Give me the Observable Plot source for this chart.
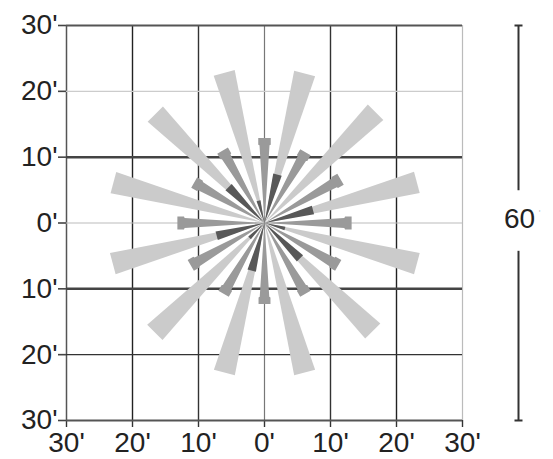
<!DOCTYPE html>
<html>
<head>
<meta charset="utf-8">
<script src="https://cdn.jsdelivr.net/npm/d3@7"></script>
<script src="https://cdn.jsdelivr.net/npm/@observablehq/plot@0.6"></script>
<style>
  html, body { margin: 0; padding: 0; background: #fff; }
  #chart svg { display: block; }
</style>
</head>
<body>
<div id="chart"></div>
<script>
// ---- data (arcminutes, angles in degrees counter‑clockwise from east) ----
const gridValues = [-30, -20, -10, 0, 10, 20, 30];
const tickLabels = ["30'", "20'", "10'", "0'", "10'", "20'", "30'"];

const lightAngles  = [15, 45, 75, 105, 135, 165, 195, 225, 255, 285, 315, 345];
const lightLengths = [23.9, 23.8, 23.5, 23.6, 23.4, 23.7, 23.8, 23.5, 23.5, 23.5, 23.2, 23.9];

const mediumAngles  = [0, 30, 60, 90, 120, 150, 180, 210, 240, 270, 300, 330];
const mediumLengths = [13.2, 13.3, 12.4, 12.9, 12.7, 12.3, 13.2, 12.9, 12.4, 12.3, 12.4, 12.9];

const darkAngles  = [15, 75, 105, 135, 195, 225, 255, 315, 345];
const darkLengths = [7.6, 7.6, 3.5, 7.7, 7.5, 3.2, 7.5, 7.6, 3.2];

const scaleBarLabel = "60";
const scaleBarSpan = 60;

// ---- build wedge polygons from the arrays ----
function wedges(angles, lengths, group, halfAngleDeg, flare) {
  const rows = [];
  angles.forEach((a, i) => {
    const L = lengths[i];
    const rad = a * Math.PI / 180;
    const hw = L * Math.tan(halfAngleDeg * Math.PI / 180);
    let local;
    if (flare) {
      local = [[0, 0], [L - 1.1, hw * 0.8], [L - 1.0, hw], [L, hw],
               [L, -hw], [L - 1.0, -hw], [L - 1.1, -hw * 0.8]];
    } else {
      local = [[0, 0], [L, hw], [L, -hw]];
    }
    local.forEach(([r, t]) => {
      rows.push({
        id: group + i,
        x: r * Math.cos(rad) - t * Math.sin(rad),
        y: r * Math.sin(rad) + t * Math.cos(rad)
      });
    });
  });
  return rows;
}

const lightPoly  = wedges(lightAngles, lightLengths, "L", 4.0, false);
const mediumPoly = wedges(mediumAngles, mediumLengths, "M", 4.2, true);
const darkPoly   = wedges(darkAngles, darkLengths, "D", 5.0, false);

// grid line styles
const vStyle = {"-30": ["#555", 1.5], "-20": ["#222", 1.4], "-10": ["#333", 1.4], "0": ["#777", 1.2],
                "10": ["#333", 1.4], "20": ["#222", 1.4], "30": ["#bbb", 1.2]};
const hStyle = {"30": ["#555", 2], "20": ["#ccc", 1.2], "10": ["#444", 2.5], "0": ["#bbb", 1.2],
                "-10": ["#444", 2.5], "-20": ["#333", 1.4], "-30": ["#555", 2.2]};

const capSymbol = {
  draw(ctx, size) {
    const r = Math.sqrt(size / Math.PI);
    ctx.moveTo(-r, 0);
    ctx.lineTo(r, 0);
  }
};

const font = "'Liberation Sans', Arial, Helvetica, sans-serif";
const fmt = d => tickLabels[gridValues.indexOf(d)];

const chart = Plot.plot({
  width: 553,
  height: 459,
  marginLeft: 66,
  marginRight: 91,
  marginTop: 25,
  marginBottom: 39,
  x: {domain: [-30, 30], label: null},
  y: {domain: [-30, 30], label: null},
  style: {fontFamily: font, fontSize: "28px", background: "#fff", color: "#222"},
  marks: [
    Plot.axisX(gridValues, {tickSize: 7, tickPadding: 5, tickFormat: fmt, fontSize: 28, stroke: "#333", strokeWidth: 1.4, fill: "#222", label: null}),
    Plot.axisY(gridValues, {tickSize: 8, tickPadding: 1, tickFormat: fmt, fontSize: 28, stroke: "#444", strokeWidth: 1.6, fill: "#222", label: null}),
    Plot.ruleX(gridValues, {x: d => d, y1: -30, y2: 30, stroke: d => vStyle[d][0], strokeWidth: d => vStyle[d][1]}),
    Plot.ruleY(gridValues, {y: d => d, x1: -30, x2: 30, stroke: d => hStyle[d][0], strokeWidth: d => hStyle[d][1]}),
    Plot.line(lightPoly,  {x: "x", y: "y", z: "id", fill: "#cbcbcb", stroke: "none", curve: "linear"}),
    Plot.line(mediumPoly, {x: "x", y: "y", z: "id", fill: "#9a9a9a", stroke: "none", curve: "linear"}),
    Plot.line(darkPoly,   {x: "x", y: "y", z: "id", fill: "#585858", stroke: "none", curve: "linear"}),
    // scale bar for 60'
    Plot.ruleX([{y1: -scaleBarSpan / 2, y2: -4.3}, {y1: 4.9, y2: scaleBarSpan / 2}],
      {x: () => 30, y1: "y1", y2: "y2", dx: 56, stroke: "#333", strokeWidth: 2}),
    Plot.dot([-scaleBarSpan / 2, scaleBarSpan / 2],
      {x: () => 30, y: d => d, dx: 56, symbol: capSymbol, r: 4, stroke: "#333", strokeWidth: 2, fill: "none"}),
    Plot.text([scaleBarLabel], {x: () => 30, y: () => 0, dx: 57, dy: -4, text: d => d, fontSize: 28, fill: "#222"}),
    Plot.text(["'"], {x: () => 30, y: () => 0, dx: 77, dy: -10, text: d => d, fontSize: 9, fill: "#bbb"})
  ]
});

document.getElementById("chart").appendChild(chart);
</script>
</body>
</html>
